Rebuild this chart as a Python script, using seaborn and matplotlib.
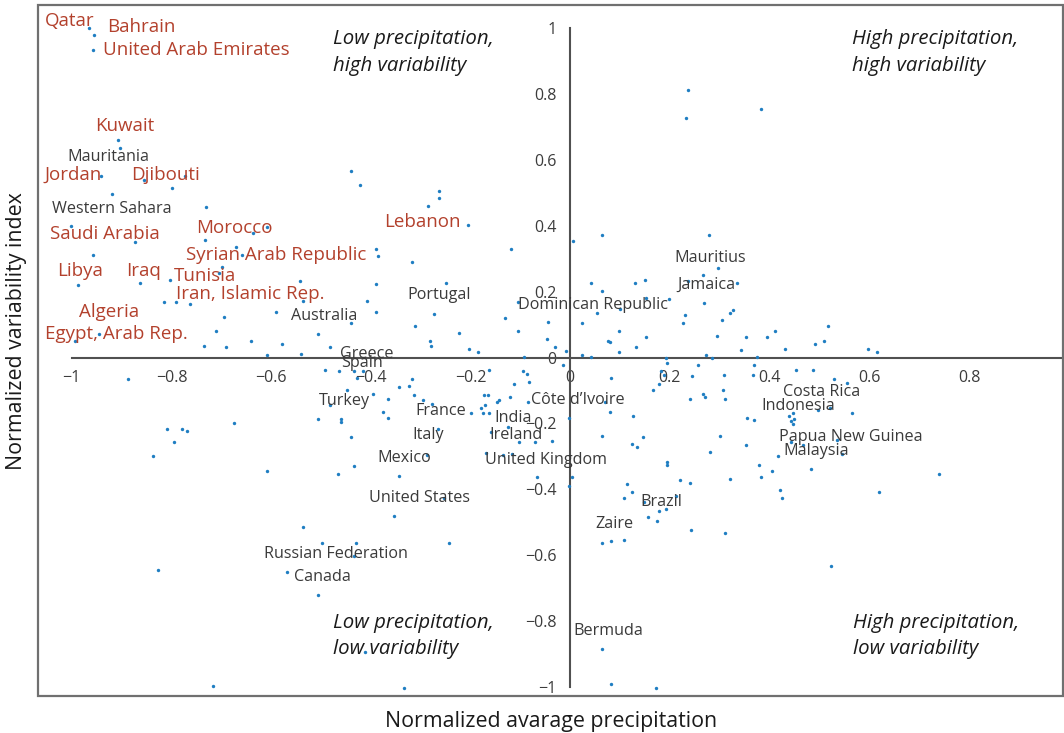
import numpy as np
import pandas as pd
import matplotlib
matplotlib.use("Agg")
import matplotlib.pyplot as plt
from matplotlib.patches import Rectangle
import seaborn as sns

# ---------------- data ----------------
precipitation = [
    -0.965, -0.955, -0.958, -0.907, -0.904, -0.942, -0.855, -0.772, -0.798, -0.919,
    -0.730, -0.608, -0.636, -1.001, -0.873, -0.733, -0.671, -0.658, -0.958, -0.699,
    -0.704, -0.988, -0.862, -0.803, -0.543, -0.814, -0.791, -0.762, -0.537, -0.591,
    -0.695, -0.711, -0.946, -0.994, -0.640, -0.578, -0.734, -0.691, -0.608, -0.541,
    -0.440, -0.505, -0.482, -0.440, -0.421, -0.263, -0.263, -0.285, -0.205, -0.389,
    -0.385, -0.318, -0.118, -0.389, -0.250, -0.408, -0.389, -0.273, -0.311, -0.131,
    -0.105, -0.105, -0.044, -0.224, -0.282, -0.279, -0.202, -0.185, -0.047, -0.031,
    -0.009, -0.092,
    0.005, 0.063, 0.279, 0.236, 0.233, 0.382, 0.297, 0.266, 0.237, 0.334,
    0.041, 0.130, 0.150, 0.063, 0.152, 0.199, 0.269, 0.099, 0.053, 0.231,
    0.227, 0.327, 0.320, 0.304, 0.024, 0.098, 0.517, 0.411, 0.294, 0.352,
    0.395, 0.153, 0.075, 0.079, 0.510, 0.491, 0.133, 0.430, 0.342, 0.098,
    0.597, 0.616, 0.024, 0.041, 0.272, 0.285, 0.375, 0.192, 0.195,
    -0.888, -0.808, -0.778, -0.768, -0.795, -0.837, -0.675, -0.608, -0.826, -0.717,
    -0.537, -0.498, -0.430, -0.434, -0.569, -0.505, -0.491, -0.463, -0.433, -0.415,
    -0.427, -0.447, -0.482, -0.505, -0.459, -0.459, -0.440, -0.466, -0.433, -0.395,
    -0.366, -0.344, -0.324, -0.318, -0.314, -0.295, -0.278, -0.376, -0.366, -0.266,
    -0.287, -0.344, -0.254, -0.353, -0.243, -0.411, -0.334,
    -0.162, -0.095, -0.086, -0.082, -0.112, -0.014, -0.199, -0.179, -0.175, -0.170,
    -0.162, -0.173, -0.164, -0.146, -0.142, -0.120, -0.084, -0.158, -0.124, -0.102,
    -0.070, -0.037, -0.169, -0.135, -0.116, -0.002, -0.067, 0.004, -0.003,
    0.082, 0.182, 0.188, 0.244, 0.308, 0.366, 0.369, 0.256, 0.453, 0.488,
    0.530, 0.556, 0.179, 0.166, 0.240, 0.266, 0.270, 0.307, 0.311, 0.070,
    0.079, 0.127, 0.497, 0.521, 0.565, 0.355, 0.369, 0.438, 0.446, 0.449,
    0.442, 0.446, 0.063, 0.146, 0.124, 0.134, 0.301, 0.352, 0.443, 0.468,
    0.536, 0.281, 0.417, 0.546, 0.195, 0.195, 0.379, 0.404, 0.484, 0.382,
    0.321, 0.221, 0.240, 0.114, 0.124, 0.107, 0.420, 0.424, 0.619, 0.740,
    0.213, 0.149, 0.192, 0.178, 0.156, 0.175, 0.243, 0.311, 0.524, 0.063,
    0.082, 0.107, 0.063, 0.082, 0.173,
]
variability = [
    1.001, 0.978, 0.932, 0.659, 0.635, 0.552, 0.538, 0.552, 0.514, 0.495,
    0.456, 0.395, 0.377, 0.398, 0.350, 0.358, 0.336, 0.310, 0.310, 0.276,
    0.256, 0.221, 0.227, 0.235, 0.232, 0.168, 0.168, 0.162, 0.172, 0.138,
    0.123, 0.080, 0.070, 0.051, 0.051, 0.042, 0.036, 0.031, 0.007, 0.012,
    0.105, 0.070, 0.032, 0.567, 0.524, 0.504, 0.485, 0.460, 0.402, 0.329,
    0.309, 0.290, 0.329, 0.222, 0.226, 0.172, 0.138, 0.133, 0.095, 0.119,
    0.168, 0.080, 0.109, 0.075, 0.051, 0.036, 0.027, 0.017, 0.056, 0.032,
    0.021, 0.002,
    0.354, 0.373, 0.373, 0.812, 0.728, 0.753, 0.271, 0.251, 0.231, 0.227,
    0.227, 0.227, 0.236, 0.202, 0.182, 0.178, 0.166, 0.148, 0.134, 0.129,
    0.104, 0.144, 0.134, 0.115, 0.105, 0.080, 0.095, 0.080, 0.066, 0.061,
    0.061, 0.061, 0.051, 0.046, 0.051, 0.041, 0.032, 0.027, 0.022, 0.017,
    0.026, 0.016, 0.007, 0.002, 0.007, -0.003, 0.002, -0.002, -0.018,
    -0.066, -0.218, -0.217, -0.222, -0.256, -0.300, -0.198, -0.344, -0.646, -0.997,
    -0.515, -0.563, -0.563, -0.602, -0.651, -0.720, -0.037, -0.042, -0.041, -0.042,
    -0.061, -0.100, -0.145, -0.187, -0.188, -0.196, -0.241, -0.354, -0.329, -0.110,
    -0.125, -0.090, -0.086, -0.066, -0.115, -0.130, -0.141, -0.164, -0.183, -0.217,
    -0.296, -0.359, -0.425, -0.480, -0.563, -0.895, -1.002,
    -0.037, -0.042, -0.051, -0.073, -0.080, -0.023, -0.168, -0.154, -0.168, -0.144,
    -0.168, -0.115, -0.115, -0.134, -0.128, -0.121, -0.134, -0.225, -0.210, -0.257,
    -0.257, -0.253, -0.290, -0.295, -0.293, -0.184, -0.363, -0.364, -0.391,
    -0.062, -0.042, -0.053, -0.056, -0.052, -0.052, -0.023, -0.023, -0.037, -0.037,
    -0.066, -0.076, -0.080, -0.100, -0.125, -0.110, -0.120, -0.100, -0.125, -0.134,
    -0.164, -0.178, -0.158, -0.154, -0.168, -0.184, -0.189, -0.178, -0.169, -0.187,
    -0.193, -0.203, -0.237, -0.242, -0.261, -0.271, -0.237, -0.266, -0.256, -0.266,
    -0.250, -0.286, -0.300, -0.294, -0.316, -0.326, -0.325, -0.344, -0.339, -0.364,
    -0.369, -0.373, -0.382, -0.383, -0.409, -0.427, -0.403, -0.427, -0.408, -0.354,
    -0.420, -0.439, -0.460, -0.465, -0.485, -0.495, -0.524, -0.534, -0.632, -0.562,
    -0.558, -0.554, -0.886, -0.992, -1.002,
]

x_ticks = [-1, -0.8, -0.6, -0.4, -0.2, 0, 0.2, 0.4, 0.6, 0.8]
x_tick_labels = ["\u22121", "\u22120.8", "\u22120.6", "\u22120.4", "\u22120.2", "0", "0.2", "0.4", "0.6", "0.8"]
y_ticks = [-1, -0.8, -0.6, -0.4, -0.2, 0, 0.2, 0.4, 0.6, 0.8, 1]
y_tick_labels = ["\u22121", "\u22120.8", "\u22120.6", "\u22120.4", "\u22120.2", "0", "0.2", "0.4", "0.6", "0.8", "1"]

# Arab / highlighted countries (red) and other labelled countries (grey)
red_names = ["Qatar", "Bahrain", "United Arab Emirates", "Kuwait", "Jordan", "Djibouti",
             "Saudi Arabia", "Morocco", "Syrian Arab Republic", "Libya", "Iraq", "Tunisia",
             "Iran, Islamic Rep.", "Algeria", "Egypt, Arab Rep.", "Lebanon"]
grey_names = ["Mauritania", "Western Sahara", "Australia", "Portugal", "Dominican Republic",
              "Mauritius", "Jamaica", "Greece", "Spain", "Turkey", "France", "Italy", "Mexico",
              "United States", "Russian Federation", "Canada", "India", "Ireland",
              "United Kingdom", "C\u00f4te d\u2019Ivoire", "Brazil", "Zaire", "Bermuda",
              "Costa Rica", "Indonesia", "Papua New Guinea", "Malaysia"]
quadrant_lines = [["Low precipitation,", "high variability"],
                  ["High precipitation,", "high variability"],
                  ["Low precipitation,", "low variability"],
                  ["High precipitation,", "low variability"]]

# ---------------- layout (label anchor positions, left/baseline) ----------------
red_pos = [(-1.054, 1.006), (-0.929, 0.987), (-0.937, 0.918), (-0.953, 0.687),
           (-1.054, 0.538), (-0.880, 0.538), (-1.044, 0.360), (-0.751, 0.379),
           (-0.771, 0.296), (-1.030, 0.247), (-0.891, 0.247), (-0.795, 0.233),
           (-0.791, 0.177), (-0.985, 0.122), (-1.054, 0.056), (-0.374, 0.397)]
grey_pos = [(-1.008, 0.597), (-1.039, 0.439), (-0.561, 0.114), (-0.327, 0.177),
            (-0.105, 0.146), (0.208, 0.291), (0.215, 0.209), (-0.462, 0.000),
            (-0.460, -0.028), (-0.504, -0.144), (-0.310, -0.175), (-0.317, -0.248),
            (-0.387, -0.316), (-0.404, -0.438), (-0.614, -0.609), (-0.554, -0.677),
            (-0.152, -0.195), (-0.162, -0.248), (-0.170, -0.323), (-0.079, -0.141),
            (0.141, -0.451), (0.051, -0.517), (0.006, -0.842), (0.426, -0.117),
            (0.383, -0.159), (0.418, -0.2525), (0.427, -0.296)]
quad_pos = [(-0.476, 0.951, 0.870), (0.565, 0.951, 0.870),
            (-0.476, -0.822, -0.901), (0.567, -0.822, -0.901)]

W, H = 1064, 733
sns.set_style("white")
plt.rcParams["font.family"] = ["Open Sans", "DejaVu Sans"]

fig = plt.figure(figsize=(W / 100, H / 100), dpi=100)
ax = fig.add_axes([38 / W, 37 / H, (1063 - 38) / W, (696 - 5) / H])

df = pd.DataFrame({"precipitation": precipitation, "variability": variability})
sns.scatterplot(data=df, x="precipitation", y="variability", ax=ax,
                color="#1f7ec2", s=6, linewidth=0, zorder=2)

xmin, xmax = -1.0676, 0.9886
ymin, ymax = -1.0273, 1.0698
ax.set_xlim(xmin, xmax)
ax.set_ylim(ymin, ymax)

for side in ["top", "right"]:
    ax.spines[side].set_visible(False)
ax.spines["left"].set_position(("data", 0))
ax.spines["bottom"].set_position(("data", 0))
ax.spines["left"].set_bounds(-1, 1)
ax.spines["bottom"].set_bounds(-1, xmax)
for side in ["left", "bottom"]:
    ax.spines[side].set_color("#505050")
    ax.spines[side].set_linewidth(1.5)
    ax.spines[side].set_zorder(1)

ax.set_xticks(x_ticks)
ax.set_xticklabels(x_tick_labels)
ax.set_yticks(y_ticks)
ax.set_yticklabels(y_tick_labels)
ax.tick_params(axis="both", direction="out", length=4, width=1.2, color="#505050",
               labelsize=11.5, labelcolor="#3c3c3c")
ax.tick_params(axis="x", pad=5)
ax.tick_params(axis="y", pad=6)
ax.set_xlabel("")
ax.set_ylabel("")

ax.add_patch(Rectangle((0, 0), 1, 1, transform=ax.transAxes, fill=False,
                       edgecolor="#707070", linewidth=1.6, clip_on=False, zorder=5))

for name, (lx, ly) in zip(red_names, red_pos):
    ax.text(lx, ly, name, color="#b3412d", fontsize=13.5, ha="left", va="baseline", zorder=4)
for name, (lx, ly) in zip(grey_names, grey_pos):
    ax.text(lx, ly, name, color="#3a3a3a", fontsize=11.6, ha="left", va="baseline", zorder=4)
for lines, (lx, y1, y2) in zip(quadrant_lines, quad_pos):
    ax.text(lx, y1, lines[0], color="#1a1a1a", fontsize=14.7, style="italic",
            ha="left", va="baseline", zorder=4)
    ax.text(lx, y2, lines[1], color="#1a1a1a", fontsize=14.7, style="italic",
            ha="left", va="baseline", zorder=4)

fig.text(551.5 / W, (H - 726.7) / H, "Normalized avarage precipitation",
         ha="center", va="baseline", fontsize=15.4, color="#1a1a1a")
fig.text(17 / W, (H - 331.5) / H, "Normalized variability index", rotation=90,
         ha="center", va="center", fontsize=15.4, color="#1a1a1a")

fig.savefig("out.png", dpi=100)
